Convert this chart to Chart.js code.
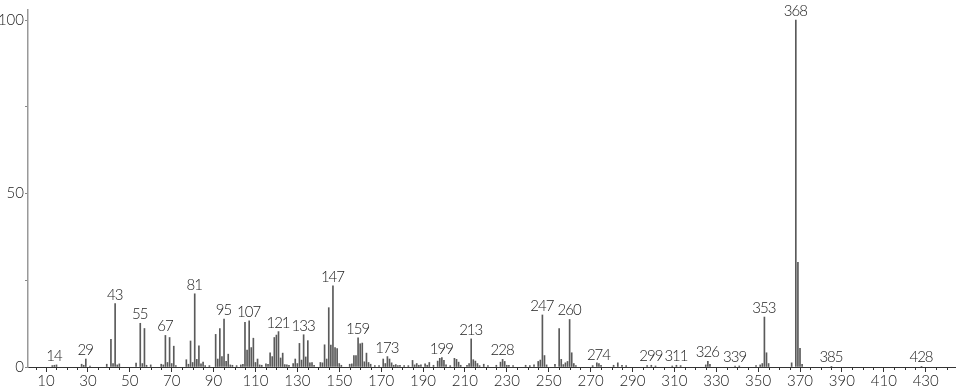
<!DOCTYPE html>
<html lang="en">
    <head>
        <meta charset="utf-8" />
        <title>Mass spectrum</title>
        <style>
            body { margin: 0; background: #fff; }
        </style>
    </head>
    <body>
        <canvas id="spectrum" width="966" height="389"></canvas>
        <script src="https://cdn.jsdelivr.net/npm/chart.js@4/dist/chart.umd.min.js"></script>
        <script>
            // m/z values and relative intensities
            var mz = [13, 14, 15, 27, 28, 29, 31, 39, 41, 42, 43, 44, 45, 53, 55, 56, 57, 58, 60,
                65, 66, 67, 68, 69, 70, 71, 72, 77, 78, 79, 80, 81, 82, 83, 84, 85, 86, 88,
                91, 92, 93, 94, 95, 96, 97, 98, 99, 101, 103, 104, 105, 106, 107, 108, 109, 110, 111, 112, 113, 115, 116,
                117, 118, 119, 120, 121, 122, 123, 124, 125, 126, 128, 129, 130, 131, 132, 133, 134, 135, 136, 137, 138,
                141, 142, 143, 144, 145, 146, 147, 148, 149, 150, 151, 155, 156, 157, 158, 159, 160, 161, 162, 163, 164, 165, 167, 169,
                171, 172, 173, 174, 175, 176, 177, 178, 179, 181, 183, 185, 186, 187, 188, 189, 191, 192, 193, 195,
                197, 198, 199, 200, 201, 203, 205, 206, 207, 208, 211, 212, 213, 214, 215, 216, 217, 219, 221, 225,
                227, 228, 229, 230, 231, 233, 239, 241, 243, 245, 246, 247, 248, 249, 253, 255, 256, 257, 258, 259, 260, 261, 262, 263,
                271, 273, 274, 275, 281, 283, 285, 287, 297, 299, 301, 309, 311, 313, 325, 326, 327, 339, 341, 349,
                351, 352, 353, 354, 355, 366, 368, 369, 370, 371, 385, 428];
            var intensity = [0.4, 0.5, 0.6, 0.8, 0.5, 2.3, 0.3, 0.8, 8.0, 1.0, 18.3, 0.6, 0.9, 1.1, 12.6, 1.0, 11.1, 0.5, 0.6,
                0.8, 0.6, 9.1, 1.3, 8.5, 1.0, 6.0, 0.4, 2.1, 0.8, 7.5, 1.3, 21.1, 2.2, 6.1, 0.9, 1.4, 0.4, 0.4,
                9.4, 2.3, 11.1, 3.0, 13.8, 1.6, 3.7, 0.6, 0.5, 0.4, 0.6, 0.8, 12.9, 4.9, 13.3, 5.6, 8.3, 1.3, 2.3, 0.6, 0.5, 0.9, 0.8,
                4.1, 3.0, 8.5, 9.2, 10.2, 2.6, 4.0, 0.7, 0.6, 0.5, 1.0, 2.3, 1.0, 6.8, 2.0, 9.3, 2.9, 7.6, 1.2, 1.3, 0.5,
                1.3, 1.2, 6.4, 2.3, 17.1, 6.3, 23.4, 5.6, 5.3, 1.0, 0.5, 0.8, 0.9, 3.3, 3.3, 8.4, 6.7, 6.9, 1.5, 4.0, 1.3, 0.8, 0.4, 0.4,
                2.3, 1.0, 3.0, 2.3, 1.2, 0.5, 0.7, 0.4, 0.5, 0.4, 0.4, 1.9, 0.6, 1.0, 0.5, 0.6, 0.9, 0.5, 1.3, 0.5,
                1.7, 2.5, 2.7, 1.9, 0.6, 0.4, 2.5, 2.2, 1.4, 0.5, 0.5, 1.0, 8.1, 2.1, 1.7, 1.0, 0.4, 0.8, 0.4, 0.5,
                1.4, 2.2, 1.6, 0.5, 0.5, 0.4, 0.5, 0.4, 0.6, 1.6, 2.0, 15.0, 3.3, 0.6, 0.8, 11.1, 2.2, 0.7, 1.2, 1.6, 13.7, 4.1, 1.0, 0.4,
                0.4, 1.2, 1.0, 0.5, 0.5, 1.2, 0.5, 0.4, 0.4, 0.5, 0.3, 0.3, 0.5, 0.4, 0.6, 1.6, 0.8, 0.3, 0.3, 0.4,
                0.6, 1.0, 14.4, 4.1, 1.0, 1.2, 100, 30.2, 5.4, 0.8, 0.2, 0.2];
            var peakLabels = [14, 29, 43, 55, 67, 81, 95, 107, 121, 133, 147, 159, 173, 199, 213, 228,
                247, 260, 274, 299, 311, 326, 339, 353, 368, 385, 428];
            var xTickValues = [10, 30, 50, 70, 90, 110, 130, 150, 170, 190, 210, 230, 250, 270, 290,
                310, 330, 350, 370, 390, 410, 430];
            var yTickLabels = [0, 50, 100];

            var fontFamily = "Lato, 'Open Sans', sans-serif";

            // peak numbers above the labelled lines, plus the short minor ticks on the m/z axis
            var peakLabelPlugin = {
                id: "peakLabels",
                afterDraw: function (chart) {
                    var ctx = chart.ctx;
                    var x = chart.scales.x;
                    var y = chart.scales.y;
                    ctx.save();
                    ctx.strokeStyle = "#333";
                    ctx.lineWidth = 1;
                    for (var v = 5; v <= 440; v += 5) {
                        if (xTickValues.indexOf(v) >= 0) continue;
                        var px = Math.round(x.getPixelForValue(v)) + 0.5;
                        ctx.beginPath();
                        ctx.moveTo(px, y.bottom);
                        ctx.lineTo(px, y.bottom + 3);
                        ctx.stroke();
                    }
                    ctx.font = "300 15px " + fontFamily;
                    ctx.letterSpacing = "-1px";
                    ctx.fillStyle = "#222";
                    ctx.textAlign = "center";
                    ctx.textBaseline = "alphabetic";
                    peakLabels.forEach(function (m) {
                        var i = mz.indexOf(m);
                        var val = i >= 0 ? intensity[i] : 0;
                        var top = y.getPixelForValue(val);
                        var base = Math.min(top - 4, y.bottom - 4);
                        ctx.fillText(String(m), x.getPixelForValue(m) - 0.5, base);
                    });
                    ctx.restore();
                }
            };

            new Chart(document.getElementById("spectrum").getContext("2d"), {
                type: "bar",
                data: {
                    datasets: [{
                        data: mz.map(function (m, i) { return { x: m, y: intensity[i] }; }),
                        backgroundColor: "#5a5a5a",
                        borderWidth: 0,
                        barThickness: 1
                    }]
                },
                options: {
                    responsive: false,
                    animation: false,
                    devicePixelRatio: 1,
                    layout: { padding: { top: 2, right: 11, left: 0, bottom: 0 } },
                    plugins: {
                        legend: { display: false },
                        tooltip: { enabled: false }
                    },
                    scales: {
                        x: {
                            type: "linear",
                            offset: false,
                            min: 1.4,
                            max: 444,
                            afterBuildTicks: function (scale) {
                                scale.ticks = xTickValues.map(function (v) { return { value: v }; });
                            },
                            afterFit: function (scale) { scale.height = 22; },
                            grid: { drawOnChartArea: false, offset: false, tickLength: 5, color: "#333" },
                            border: { color: "#333", width: 1 },
                            ticks: {
                                autoSkip: false,
                                maxRotation: 0,
                                padding: 0,
                                color: "#222",
                                font: { family: fontFamily, size: 15, weight: 300 }
                            }
                        },
                        y: {
                            min: 0,
                            max: 102.9,
                            afterFit: function (scale) { scale.width = 28; },
                            grid: { drawOnChartArea: false, tickLength: 3, color: "#888" },
                            border: { color: "#999", width: 1.5 },
                            ticks: {
                                stepSize: 25,
                                includeBounds: false,
                                padding: 1,
                                color: "#222",
                                font: { family: fontFamily, size: 15, weight: 300 },
                                callback: function (v) { return yTickLabels.indexOf(v) >= 0 ? v : ""; }
                            }
                        }
                    }
                },
                plugins: [peakLabelPlugin]
            });
        </script>
    </body>
</html>
